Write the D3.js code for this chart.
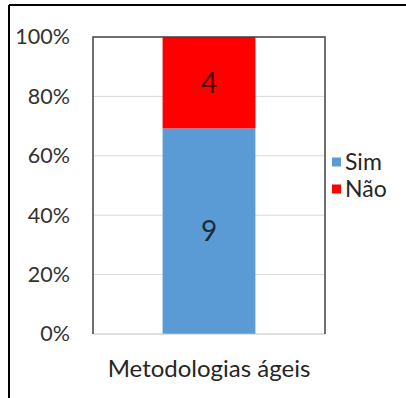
<!DOCTYPE html>
<html>
<head>
<meta charset="utf-8">
<script src="https://cdn.jsdelivr.net/npm/d3@7"></script>
<style>
  html, body { margin: 0; padding: 0; background: #fff; }
  svg { display: block; }
  text { font-family: Lato, "Open Sans", sans-serif; }
</style>
</head>
<body>
<script>
const categories = ["Metodologias ágeis"];
const seriesNames = ["Sim", "Não"];
const simValues = [9];
const naoValues = [4];
const yTicks = [0, 0.2, 0.4, 0.6, 0.8, 1.0];
const seriesColors = ["#5B9BD5", "#FF0000"];

const W = 406, H = 398;
const margin = { left: 93, top: 37, right: 81, bottom: 64 };
const pw = W - margin.left - margin.right;
const ph = H - margin.top - margin.bottom;

const svg = d3.select("body").append("svg").attr("width", W).attr("height", H);

// outer frame (partial, as cropped)
svg.append("line").attr("x1", 9).attr("x2", W).attr("y1", 5).attr("y2", 5)
  .attr("stroke", "#000").attr("stroke-width", 2);
svg.append("line").attr("x1", 9).attr("x2", 9).attr("y1", 5).attr("y2", H)
  .attr("stroke", "#000").attr("stroke-width", 2);

const rows = categories.map((c, i) => ({ cat: c, Sim: simValues[i], "Não": naoValues[i] }));
const stack = d3.stack().keys(seriesNames).offset(d3.stackOffsetExpand);
const layers = stack(rows);

const x = d3.scaleBand().domain(categories).range([0, pw]).paddingInner(0).paddingOuter(0.75);
const y = d3.scaleLinear().domain([0, 1]).range([ph, 0]);
const color = d3.scaleOrdinal().domain(seriesNames).range(seriesColors);

const g = svg.append("g").attr("transform", `translate(${margin.left},${margin.top})`);

// gridlines
g.append("g").selectAll("line").data(yTicks.filter(t => t > 0 && t < 1)).join("line")
  .attr("x1", 0).attr("x2", pw).attr("y1", d => y(d)).attr("y2", d => y(d))
  .attr("stroke", "#d9d9d9").attr("stroke-width", 1);

// y axis labels
const yAxis = d3.axisLeft(y).tickValues(yTicks).tickFormat(d3.format(".0%")).tickSize(0).tickPadding(23);
const ya = g.append("g").call(yAxis);
ya.select(".domain").remove();
ya.selectAll("text").attr("font-size", 21.5).attr("fill", "#333")
  .style("font-family", "Lato, 'Open Sans', sans-serif");

// bars
const layerG = g.selectAll("g.layer").data(layers).join("g").attr("class", "layer")
  .attr("fill", d => color(d.key));
layerG.selectAll("rect").data(d => d.map(v => ({ v, key: d.key }))).join("rect")
  .attr("x", d => x(d.v.data.cat))
  .attr("width", x.bandwidth())
  .attr("y", d => y(d.v[1]))
  .attr("height", d => y(d.v[0]) - y(d.v[1]));

// data labels
layerG.selectAll("text").data(d => d.map(v => ({ v, key: d.key }))).join("text")
  .attr("x", d => x(d.v.data.cat) + x.bandwidth() / 2)
  .attr("y", d => (y(d.v[0]) + y(d.v[1])) / 2)
  .attr("dy", "0.36em")
  .attr("text-anchor", "middle")
  .attr("font-size", 28)
  .attr("fill", "#000").attr("fill-opacity", 0.72)
  .text(d => d.v.data[d.key]);

// plot area border: top/left/right dark, bottom axis light
g.append("line").attr("x1", 0).attr("x2", pw).attr("y1", ph).attr("y2", ph)
  .attr("stroke", "#bfbfbf").attr("stroke-width", 1);
g.append("path").attr("d", `M0,${ph}V0H${pw}V${ph}`)
  .attr("fill", "none").attr("stroke", "#404040").attr("stroke-width", 1.5);

// x axis label
const xAxis = d3.axisBottom(x).tickSize(0).tickPadding(26);
const xa = g.append("g").attr("transform", `translate(0,${ph})`).call(xAxis);
xa.select(".domain").remove();
xa.selectAll("text").attr("font-size", 24).attr("fill", "#262626")
  .style("font-family", "Lato, 'Open Sans', sans-serif");

// legend
const legend = svg.append("g").attr("transform", "translate(332,0)");
const legendY = [162, 189];
const li = legend.selectAll("g").data(seriesNames).join("g")
  .attr("transform", (d, i) => `translate(0,${legendY[i]})`);
li.append("rect").attr("x", 0).attr("y", -4.5).attr("width", 9).attr("height", 9)
  .attr("fill", d => color(d));
li.append("text").attr("x", 13).attr("dy", "0.36em").attr("font-size", 23)
  .attr("fill", "#262626").text(d => d);
</script>
</body>
</html>
